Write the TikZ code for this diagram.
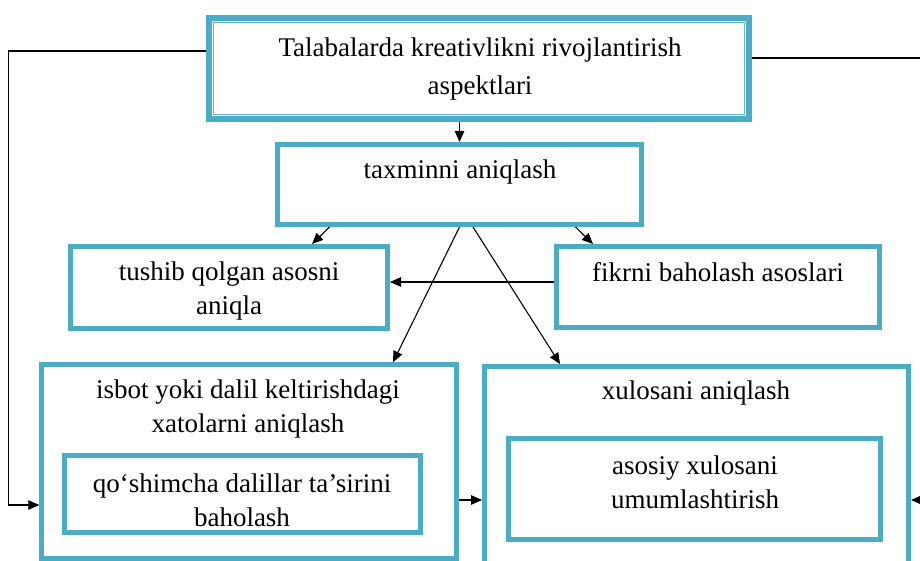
\documentclass[tikz,border=0pt]{standalone}
\usepackage{fontspec}
\setmainfont{Liberation Serif}
\usetikzlibrary{arrows.meta}
\definecolor{tealb}{HTML}{4BACC6}
\tikzset{
  box/.style={draw=tealb, line width=5pt, rectangle, inner sep=0pt},
  txt/.style={align=center, inner sep=0pt, font=\fontsize{27}{34}\selectfont},
  arr/.style={-{Triangle[length=11pt,width=9.5pt]}, line width=1.1pt}
}
\begin{document}
\begin{tikzpicture}[x=1pt,y=-1pt]
            \clip (0,0) rectangle (920,561);
            % boxes
            \node[box, line width=6.5pt, minimum width=540pt, minimum height=101pt] (title) at (479,68.5) {};
            \draw[tealb!85, line width=1.3pt] ([shift={(7.8,7.8)}]title.north west) rectangle ([shift={(-7.8,-7.8)}]title.south east);
            \node[box, minimum width=364pt, minimum height=80pt] (tax) at (459.5,184.5) {};
            \node[box, minimum width=317pt, minimum height=82pt] (tush) at (229,287.5) {};
            \node[box, minimum width=323pt, minimum height=81pt] (fik) at (718,287) {};
            \node[box, line width=4.5pt, minimum width=415pt, minimum height=194pt] (isbot) at (249,461.5) {};
            \node[box, minimum width=356pt, minimum height=77pt] (qosh) at (242.5,494) {};
            \node[box, minimum width=424pt, minimum height=230pt] (xul) at (696.5,481.5) {};
            \node[box, minimum width=372pt, minimum height=101pt] (asos) at (694.5,489) {};
            % texts
            \node[txt, font=\fontsize{27}{38}\selectfont] (titletxt) at (480,69) {Talabalarda kreativlikni rivojlantirish\\aspektlari};
            \node[txt] (taxtxt) at (460,172) {taxminni aniqlash};
            \node[txt] (tushtxt) at (229,291.5) {tushib qolgan asosni\\aniqla};
            \node[txt] (fiktxt) at (718,272) {fikrni baholash asoslari};
            \node[txt] (isbottxt) at (248,409) {isbot yoki dalil keltirishdagi\\xatolarni aniqlash};
            \node[txt] (qoshtxt) at (242,500) {qo‘shimcha dalillar ta’sirini\\baholash};
            \node[txt] (xultxt) at (696,393) {xulosani aniqlash};
            \node[txt] (asostxt) at (695,482.5) {asosiy xulosani\\umumlashtirish};
            \coordinate (rtop) at (925,58);
            \coordinate (rbot) at (925,500);
            % arrows
            \draw[arr] (tax.north |- title.south) -- (tax.north);
            \draw[arr] ([xshift=-130pt]tax.south) -- ([xshift=83pt]tush.north);
            \draw[arr] ([xshift=116pt]tax.south) -- ([xshift=-125pt]fik.north);
            \draw[arr] ([yshift=5pt]fik.west) -- ([yshift=5pt]fik.west -| tush.east);
            \draw[arr] (tax.south) -- ([xshift=144pt]isbot.north);
            \draw[arr] ([xshift=13.5pt]tax.south) -- ([xshift=-136.5pt]xul.north);
            \draw[arr] ([yshift=-38.5pt]isbot.east) -- ([yshift=-38.5pt]isbot.east -| xul.west);
            \draw[arr] ([yshift=17.5pt]title.west) -- ++(-197.5,0) |- ([yshift=-43.5pt]isbot.west);
            \draw[line width=1.1pt] ([yshift=10.5pt]title.east) -- (rtop);
            \draw[arr] (rbot) -- (rbot -| xul.east);
        \end{tikzpicture}
\end{document}
